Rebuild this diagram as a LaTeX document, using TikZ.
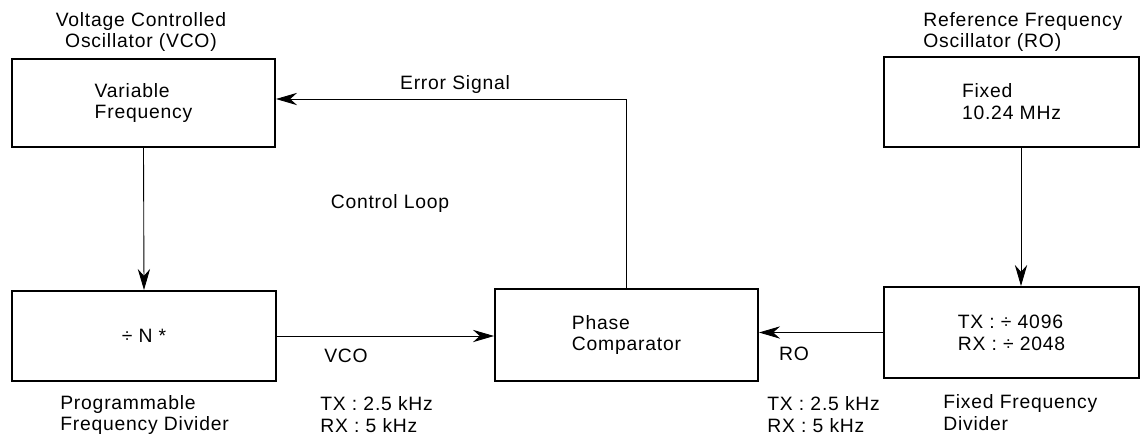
\documentclass[tikz,border=0pt]{standalone}
\usepackage{fontspec}
\setmainfont{Liberation Sans}[LetterSpace=4]
\usetikzlibrary{arrows.meta,positioning}

\begin{document}
\begin{tikzpicture}[
    font=\fontsize{11}{12.5}\selectfont,
    blk/.style={draw, line width=1.1pt, minimum width=5.26cm, minimum height=1.76cm, align=left, inner sep=0pt},
    lbl/.style={inner sep=0pt, align=left},
    sig/.style={-{Stealth[length=12pt,width=7pt]}, line width=0.5pt}
]
    \useasboundingbox (0,0) rectangle (22.86,-8.74);

    % --- Blocks ---
    \node[blk] (vco) at (2.87,-2.06) {Variable\\Frequency};
    \node[blk, minimum width=5.28cm, minimum height=1.8cm] (divn) at (2.88,-6.72) {÷ N *};
    \node[blk, minimum height=1.84cm] (phase) at (12.53,-6.70) {Phase\\Comparator};
    \node[blk, minimum width=5.1cm, minimum height=1.8cm] (ro) at (20.23,-2.04) {Fixed\\10.24 MHz};
    \node[blk, minimum width=5.1cm, minimum height=1.82cm] (fdiv) at (20.23,-6.65) {TX : ÷ 4096\\RX : ÷ 2048};

    % Block names
    \node[lbl, align=center] (vcotitle) at (2.82,-0.64) {Voltage Controlled\\Oscillator (VCO)};
    \node[lbl, anchor=west] (rotitle) at (18.46,-0.64) {Reference Frequency\\Oscillator (RO)};
    \node[lbl, anchor=west] (divnname) at (1.2,-8.3) {Programmable\\Frequency Divider};
    \node[lbl, anchor=west] (fdivname) at (18.86,-8.26) {Fixed Frequency\\Divider};

    % --- Signals ---
    \draw[sig] (vco.south) -- (divn.north);
    \draw[sig] ([xshift=0.19cm]ro.south) -- ([xshift=0.19cm]fdiv.north);
    \draw[sig] (divn.east) -- (divn.east -| phase.west);
    \draw[sig] (fdiv.west) -- (fdiv.west -| phase.east);
    \draw[sig] (phase.north) |- ([yshift=0.08cm]vco.east);

    % Signal labels
    \node[lbl] (errlbl) at (9.1,-1.68) {Error Signal};
    \node[lbl] (looplbl) at (7.8,-4.06) {Control Loop};
    \node[lbl] (vcolbl) at (6.92,-7.12) {VCO};
    \node[lbl] (rolbl) at (15.88,-7.08) {RO};
    \node[lbl, anchor=west] (vcofreq) at (6.4,-8.3) {TX : 2.5 kHz\\RX : 5 kHz};
    \node[lbl, anchor=west] (rofreq) at (15.34,-8.3) {TX : 2.5 kHz\\RX : 5 kHz};

\end{tikzpicture}
\end{document}
